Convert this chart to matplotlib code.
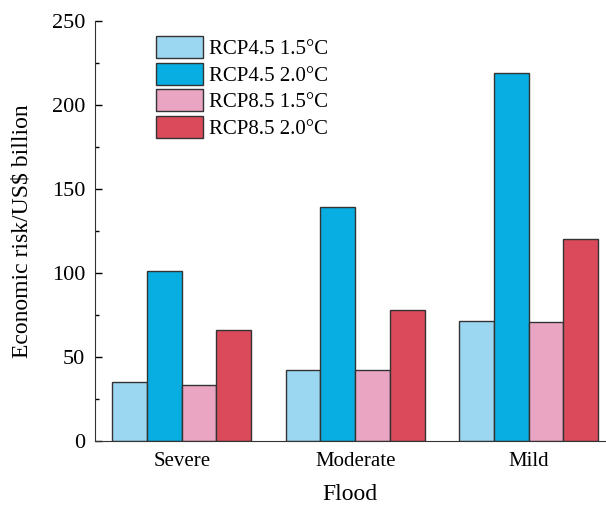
import numpy as np
import matplotlib.pyplot as plt
from matplotlib.ticker import MultipleLocator

plt.rcParams['font.family'] = ['Liberation Serif', 'DejaVu Serif']

# Flood categories and economic risk (US$ billion)
floods = ['Severe', 'Moderate', 'Mild']
labels = ['RCP4.5 1.5°C', 'RCP4.5 2.0°C', 'RCP8.5 1.5°C', 'RCP8.5 2.0°C']
rcp45_15 = [35, 42, 71.5]
rcp45_20 = [101, 139.5, 219]
rcp85_15 = [33, 42.3, 70.5]
rcp85_20 = [66, 77.8, 120]
colors = ['#9bd7f1', '#08aee2', '#e9a5c2', '#db4a5a']

series = [rcp45_15, rcp45_20, rcp85_15, rcp85_20]

fig = plt.figure(figsize=(6.06, 5.08), dpi=100)
ax = fig.add_axes([0.157, 0.132, 0.841, 0.827])

x = np.arange(len(floods))
w = 0.2
for i, (vals, lab, c) in enumerate(zip(series, labels, colors)):
    ax.bar(x + (i - 1.5) * w, vals, width=w, color=c, edgecolor='#333333',
           linewidth=1.0, label=lab)

ax.set_xlim(-0.5, 2.44)
ax.set_ylim(0, 250)
ax.set_xticks(x)
ax.set_xticklabels(floods)
ax.yaxis.set_major_locator(MultipleLocator(50))
ax.yaxis.set_minor_locator(MultipleLocator(25))
ax.tick_params(axis='y', which='major', direction='in', length=5, labelsize=16, width=1, pad=7)
ax.tick_params(axis='y', which='minor', direction='in', length=3, width=1)
ax.tick_params(axis='x', length=0, labelsize=15, pad=8)

ax.spines['top'].set_visible(False)
ax.spines['right'].set_visible(False)
ax.spines['left'].set_color('#333333')
ax.spines['bottom'].set_color('#333333')

ax.set_xlabel('Flood', fontsize=17, labelpad=9)
ax.set_ylabel('Economic risk/US$ billion', fontsize=17, labelpad=14)

ax.legend(loc='upper left', bbox_to_anchor=(0.095, 0.993), frameon=False,
          fontsize=15, handlelength=2.25, handleheight=1.25, labelspacing=0.17,
          handletextpad=0.3, borderaxespad=0.2)

fig.savefig('out.png', dpi=100)
